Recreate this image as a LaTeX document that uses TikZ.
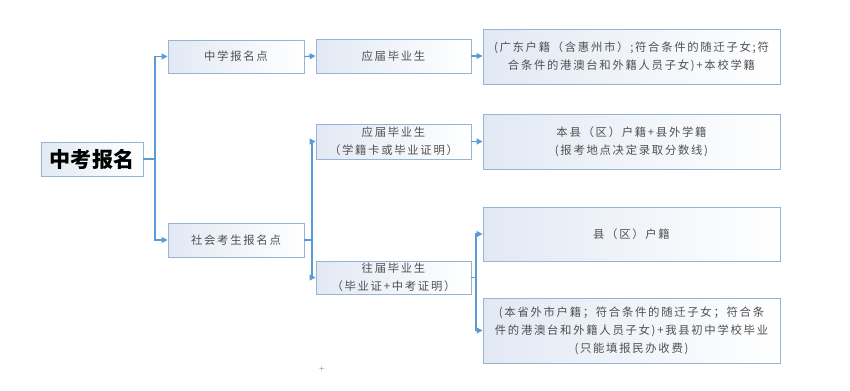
\documentclass[tikz,border=0pt]{standalone}
\usepackage{fontspec}
\usepackage{xcolor}
\usepackage{tikz}
\usetikzlibrary{arrows.meta}
\newfontfamily\cjk[LetterSpace=15]{Noto Sans CJK SC}
\newfontfamily\cjktitle{Noto Sans CJK SC}
\definecolor{linkblue}{RGB}{91,155,213}
\definecolor{boxline}{RGB}{150,180,214}
\definecolor{boxfill}{RGB}{226,233,244}
\definecolor{txtgray}{RGB}{80,80,80}
\tikzset{
  box/.style={draw=boxline, line width=0.8pt, left color=boxfill, right color=white,
    align=center, inner sep=1pt, text=txtgray, font=\cjk\fontsize{9.7}{15.5}\selectfont},
  link/.style={linkblue, line width=1pt, -{Triangle[length=5pt,width=5pt]}},
  trunk/.style={linkblue, line width=1pt}
}
\begin{document}
\begin{tikzpicture}[x=0.03cm, y=-0.03cm]
\useasboundingbox[fill=white] (0,0) rectangle (850,390);

\node[box, minimum width=3.06cm, minimum height=1.02cm, text=black,
      font=\cjktitle\bfseries\fontsize{18}{20}\selectfont] (title) at (92,159) {中考报名};

\node[box, minimum width=4.08cm, minimum height=0.99cm] (zxbm) at (236,56.5) {中学报名点};
\node[box, minimum width=4.08cm, minimum height=1.02cm] (shbm) at (236,240) {社会考生报名点};

\node[box, minimum width=4.65cm, minimum height=1.02cm] (yj1) at (393.5,56) {应届毕业生};
\node[box, minimum width=4.65cm, minimum height=1.05cm] (yj2) at (393.5,141.5)
  {应届毕业生\\（学籍卡或毕业证明）};
\node[box, minimum width=4.65cm, minimum height=0.99cm] (wj) at (393.5,277.5)
  {往届毕业生\\（毕业证+中考证明）};

\node[box, minimum width=8.91cm, minimum height=1.65cm] (r1) at (631.5,56.5)
  {(广东户籍（含惠州市）;符合条件的随迁子女;符\\合条件的港澳台和外籍人员子女)+本校学籍};
\node[box, minimum width=8.91cm, minimum height=1.65cm] (r2) at (631.5,141.5)
  {本县（区）户籍+县外学籍\\(报考地点决定录取分数线)};
\node[box, minimum width=8.91cm, minimum height=1.62cm] (r3) at (631.5,234)
  {县（区）户籍};
\node[box, minimum width=8.91cm, minimum height=1.95cm] (r4) at (631.5,330.5)
  {(本省外市户籍；符合条件的随迁子女；符合条\\件的港澳台和外籍人员子女)+我县初中学校毕业\\(只能填报民办收费)};

\node[text=txtgray, font=\tiny, inner sep=0pt] (plus) at (322,369) {+};

\coordinate (t1) at (155,159);
\coordinate (t2) at (312,240);
\coordinate (t3) at (476,277.5);

\draw[trunk] (title.east) -- (t1);
\draw[link] (t1) |- (zxbm.west);
\draw[link] (t1) |- (shbm.west);
\draw[link] (zxbm.east) -- (yj1.west);
\draw[link] (yj1.east) -- (r1.west |- yj1.east);

\draw[trunk] (shbm.east) -- (t2);
\draw[link] (t2) |- (yj2.west);
\draw[link] (t2) |- (wj.west);
\draw[link] (yj2.east) -- (r2.west);

\draw[trunk] (wj.east) -- (t3);
\draw[link] (t3) |- (r3.west);
\draw[link] (t3) |- (r4.west);
\end{tikzpicture}
\end{document}
